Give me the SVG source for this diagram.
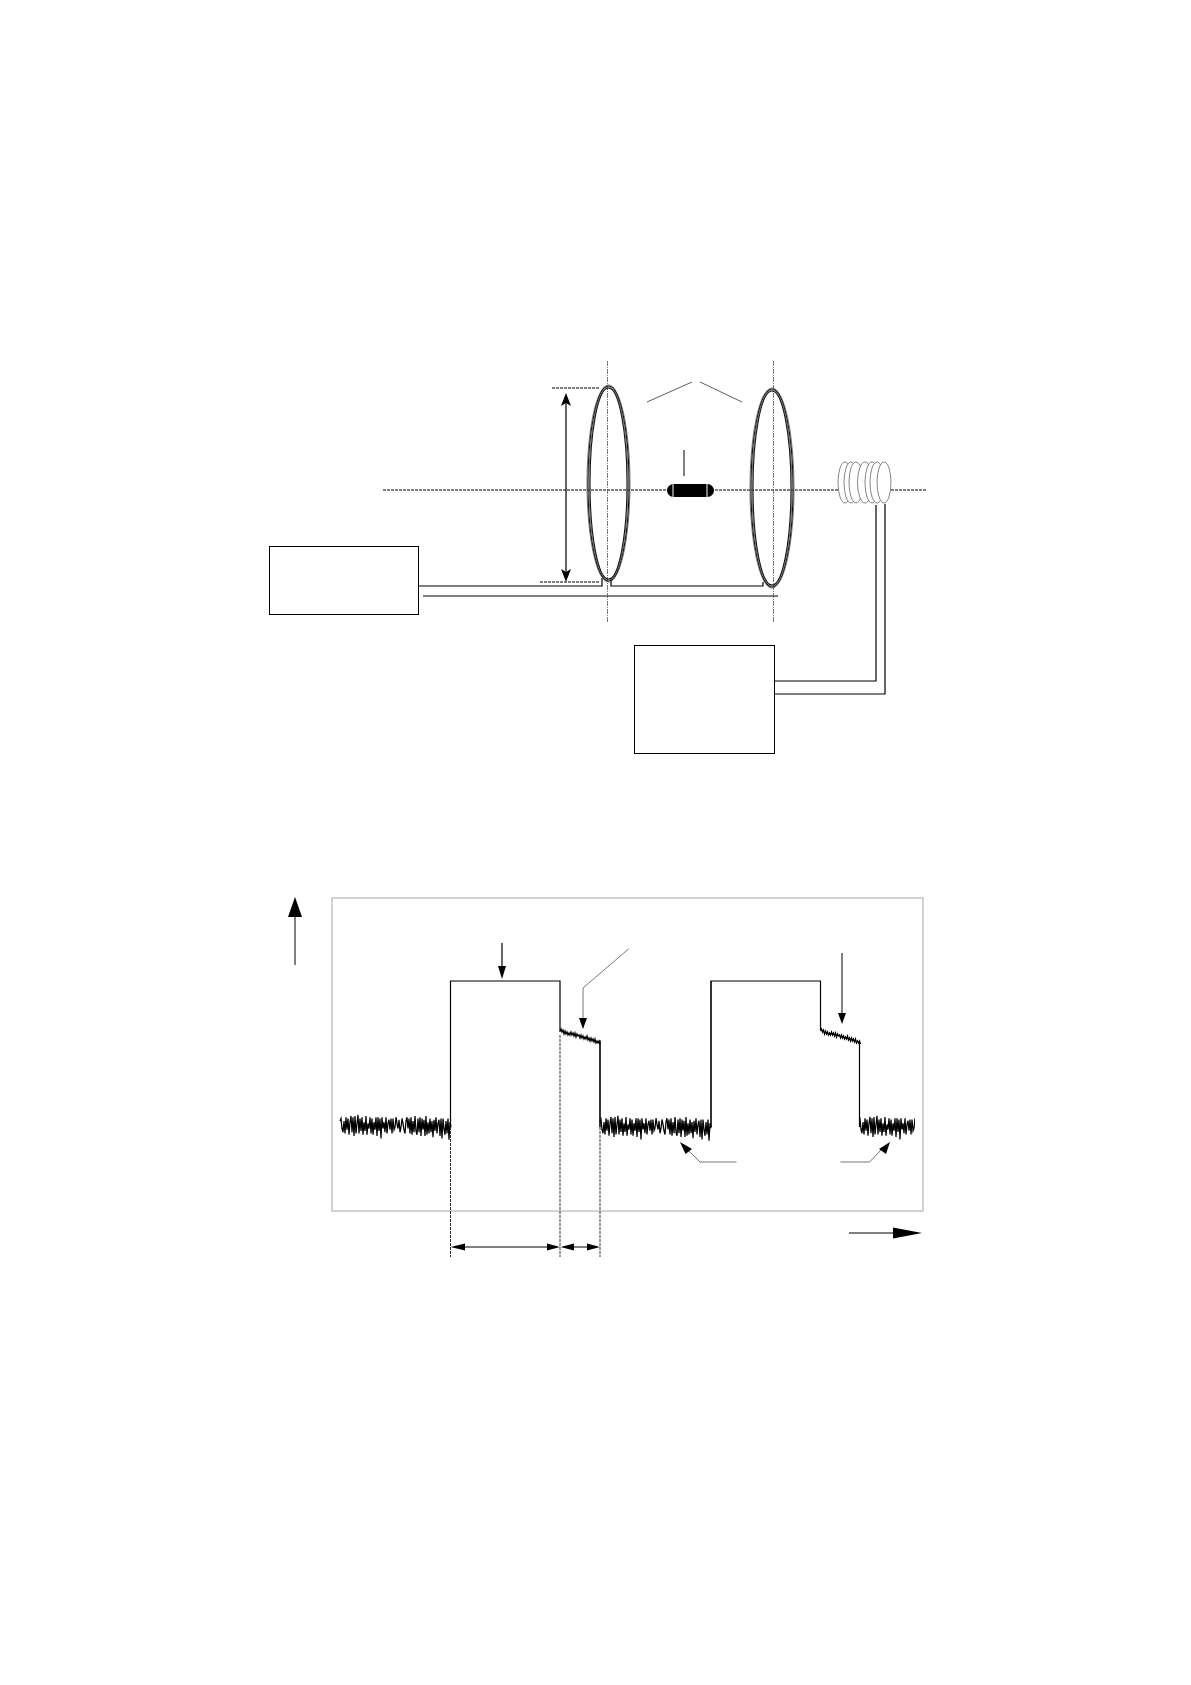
<svg xmlns="http://www.w3.org/2000/svg" width="1191" height="1685" viewBox="0 0 1191 1685">
<style>
.box{fill:#fff;stroke:#000;stroke-width:1}
.wire{fill:none;stroke:#000;stroke-width:1.2}
.axis{fill:none;stroke:#000;stroke-width:1;stroke-dasharray:3 1}
.vaxis{fill:none;stroke:#555;stroke-width:.8;stroke-dasharray:5 1 1 1}
.thin{fill:none;stroke:#333;stroke-width:.8}
.grey{fill:none;stroke:#777;stroke-width:1}
.ring1{fill:none;stroke:#111;stroke-width:1.1}
.ring2{fill:none;stroke:#666;stroke-width:.9}
.coil{fill:#fff;stroke:#333;stroke-width:.6}
.sig{fill:none;stroke:#000;stroke-width:1.2;stroke-linejoin:miter}
.noise{fill:none;stroke:#000;stroke-width:1.25}
.drop{fill:none;stroke:#000;stroke-width:.8;stroke-dasharray:3 1}
.head{fill:#000;stroke:none}
</style>
<defs>
<path id="noise" d="M0 -4L1 -6 2 2 3 5 4 -4 5 6 6 -7 7 3 8 -6 9 7 10 -3 11 -8 12 5 13 -7 14 8 15 -8 16 6 17 -2 18 -9 19 6 20 -6 21 4 22 -7 23 7 24 -3 25 4 26 -8 27 7 28 -2 29 2 30 -7 31 6 32 -6 33 7 34 -3 35 3 36 -7 37 8 38 -7 39 4 40 -6 41 10 42 -7 43 2 44 -3 45 5 46 -7 47 6 48 -2 49 -5 50 3 51 -6 52 6 53 -6 54 3 55 1 56 -7 57 -2 58 2 59 -5 60 5 61 1 62 -6 63 -2 64 3 65 6 66 -4 67 -7 68 2 69 -6 70 6 71 -7 72 7 73 -4 74 5 75 -8 76 4 77 7 78 -6 79 5 80 -7 81 8 82 -6 83 3 84 -5 85 8 86 -8 87 7 88 -3 89 6 90 -6 91 5 92 -4 93 9 94 -5 95 4 96 -7 97 6 98 -2 99 -5 100 8 101 -6 102 10 103 -6 104 2 105 7 106 -4 107 6 108 -6 109 11 110 -3 111 1"/>
<path id="shelf" d="M0 0L1 -2 2 1 3 -1 4 3 5 0 6 3 7 1 8 4 9 2 10 4 11 1 12 4 13 2 14 5 15 2 16 6 17 3 18 5 19 4 20 7 21 4 22 7 23 5 24 8 25 6 26 8 27 5 28 9 29 7 30 10 31 7 32 10 33 8 34 11 35 8 36 12 37 10 38 12 39 10 40 13"/>
<clipPath id="n3"><rect x="859" y="1100" width="56" height="60"/></clipPath>
</defs>
<g id="connectors">
<path class="wire" d="M418 586H602V578M611 578V586H763V582"/>
<path class="wire" d="M423 596H778"/>
<path class="wire" d="M774 681H876V505M774 694H885V504"/>
<path class="thin" d="M647 402L692 382M700 382L742 402"/>
<path class="wire" d="M684 450V476" style="stroke-width:1"/>
</g>
<g id="axes">
<path class="axis" d="M383 490H927"/>
<path class="vaxis" d="M607.500 361V622M773.500 361V622"/>
</g>
<g id="dimension">
<path class="axis" d="M552 388H600M540 582H600"/>
<path class="wire" d="M566 396V578"/>
<path class="head" d="M566 393L571 406L566 403L561 406Z"/>
<path class="head" d="M566 582L571 569L566 572L561 569Z"/>
</g>
<g id="coil-left">
<ellipse class="ring2" cx="608.5" cy="483.5" rx="21.5" ry="98.5"/>
<ellipse class="ring1" cx="608.5" cy="483.5" rx="20.5" ry="97.5"/>
<ellipse class="ring2" cx="608.5" cy="483.5" rx="19.5" ry="96.5"/>
<ellipse class="ring1" cx="608.5" cy="483.5" rx="18.5" ry="95.5"/>
</g>
<g id="coil-right">
<ellipse class="ring2" cx="772" cy="488" rx="22" ry="100"/>
<ellipse class="ring1" cx="772" cy="488" rx="21" ry="99"/>
<ellipse class="ring2" cx="772" cy="488" rx="20" ry="98"/>
<ellipse class="ring1" cx="772" cy="488" rx="19" ry="97"/>
</g>
<g id="sample">
<rect class="head" x="667" y="484" width="47" height="13" rx="6.5"/>
<path d="M673 484V497M707 484V497" stroke="#fff" stroke-width="1" fill="none"/>
</g>
<g id="pickup-coil">
<ellipse class="coil" cx="845" cy="482.500" rx="7" ry="20.500"/>
<ellipse class="coil" cx="851" cy="482.500" rx="7" ry="20.500"/>
<ellipse class="coil" cx="856" cy="482.500" rx="7" ry="20.500"/>
<ellipse class="coil" cx="865" cy="482.500" rx="7.500" ry="20.500"/>
<ellipse class="coil" cx="872" cy="482.500" rx="7" ry="20.500"/>
<ellipse class="coil" cx="877" cy="482.500" rx="7" ry="20.500"/>
<ellipse class="coil" cx="884" cy="482.500" rx="7" ry="20.500"/>
</g>
<g id="box-left"><rect class="box" x="269.5" y="546.5" width="149" height="68"/></g>
<g id="box-right"><rect class="box" x="634.5" y="645.5" width="140" height="108"/></g>
<g id="plot">
<rect x="332" y="898" width="591" height="313" fill="none" stroke="#bbb" stroke-width="1.3"/>
<use href="#noise" transform="translate(340 1126) scale(1 1.25)" class="noise"/>
<use href="#noise" transform="translate(600 1127) scale(1 1.25)" class="noise"/>
<g clip-path="url(#n3)"><use href="#noise" transform="translate(859 1127) scale(1 1.25)" class="noise"/></g>
<use href="#shelf" x="560" y="1031" class="noise"/>
<use href="#shelf" x="820.5" y="1031" class="noise"/>
<path class="sig" d="M450.500 1127V981H560V1032M600 1041V1127M711 1127V981H820.500V1030M859.500 1041V1127"/>
<path d="M600 1040V1127M711 1127V981" fill="none" stroke="#000" stroke-width="1"/>
<path class="drop" d="M450.500 1127V1257M560 1035V1257M600 1127V1257"/>
</g>
<g id="plot-arrows">
<path class="wire" d="M295 965V915" style="stroke-width:1"/>
<path class="head" d="M295 897L302 917H288Z"/>
<path class="wire" d="M849 1233H900" style="stroke-width:1"/>
<path class="head" d="M922 1233L893 1227.500V1238.500Z"/>
<path class="wire" d="M502 943V968"/>
<path class="head" d="M502 979L498 966H506Z"/>
<path class="grey" d="M628.500 949L583 988V1018"/>
<path class="head" d="M583 1029L579 1018H587Z"/>
<path class="wire" d="M842 953V1014" style="stroke-width:1"/>
<path class="head" d="M842 1024L838 1013H846Z"/>
<path class="grey" d="M736.500 1162H700L688 1150"/>
<path class="head" d="M680 1142L692 1149L685.500 1154Z"/>
<path class="grey" d="M840.500 1162H869.500L882 1149"/>
<path class="head" d="M890 1142L886 1154L879 1149Z"/>
<path class="wire" d="M455 1247H556M564 1247H596" style="stroke-width:1"/>
<path class="head" d="M450.500 1247L465 1243.500V1250.500ZM560 1247L547 1243.500V1250.500ZM560.500 1247L574 1243.500V1250.500ZM600 1247L587 1243.500V1250.500Z"/>
</g>
</svg>
